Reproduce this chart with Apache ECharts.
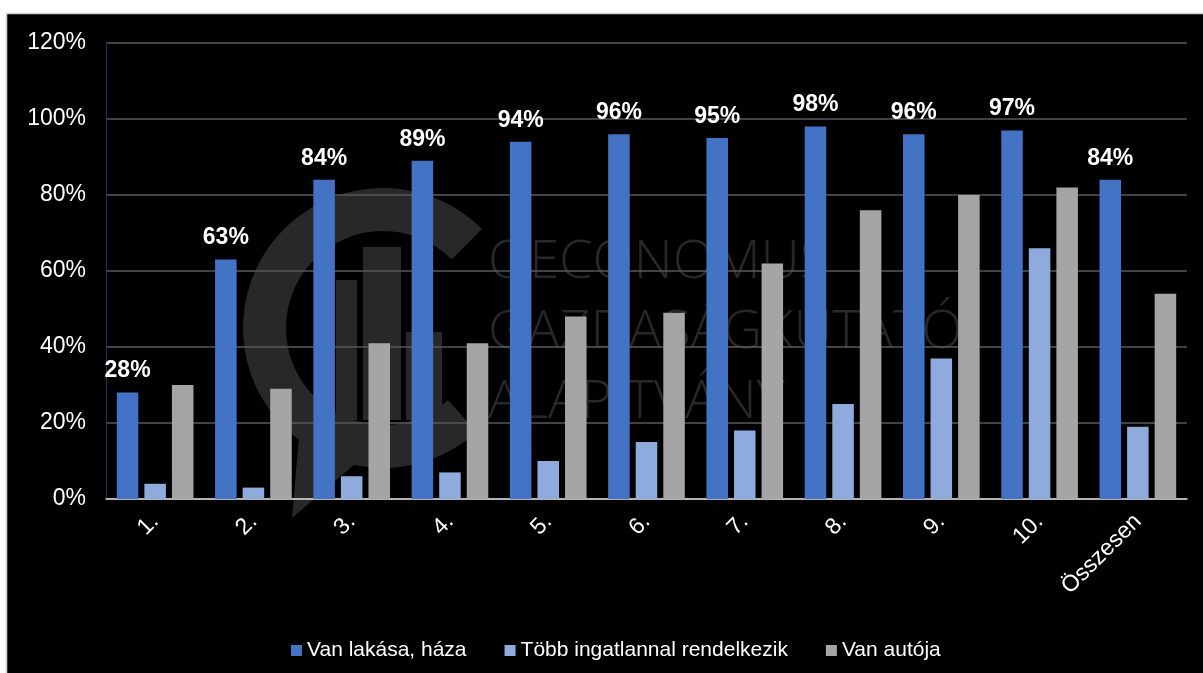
<!DOCTYPE html>
<html>
<head>
<meta charset="utf-8">
<script src="https://cdn.jsdelivr.net/npm/echarts@6/dist/echarts.min.js"></script>
<style>
  html, body { margin: 0; padding: 0; background: #fff; }
  #chart { width: 1203px; height: 673px; }
</style>
</head>
<body>
<div id="chart"></div>
<script>
// Decile groups plus the overall total
const categories = ['1.', '2.', '3.', '4.', '5.', '6.', '7.', '8.', '9.', '10.', 'Összesen'];

// Share of households (%)
const ownsHome = [28, 63, 84, 89, 94, 96, 95, 98, 96, 97, 84];
const multipleProperties = [4, 3, 6, 7, 10, 15, 18, 25, 37, 66, 19];
const ownsCar = [30, 29, 41, 41, 48, 49, 62, 76, 80, 82, 54];

const seriesNames = ['Van lakása, háza', 'Több ingatlannal rendelkezik', 'Van autója'];
const watermarkLines = ['OECONOMUS', 'GAZDASÁGKUTATÓ', 'ALAPÍTVÁNY'];

const chart = echarts.init(document.getElementById('chart'), null, { renderer: 'canvas' });

const wmColor = '#282828';
const wmText = watermarkLines.map((t, i) => ({
  type: 'text',
  z: -50,
  silent: true,
  style: {
    x: 488, y: 236 + i * 70,
    text: t,
    fill: wmColor,
    font: '300 54px "Open Sans", "DejaVu Sans", sans-serif',
    textVerticalAlign: 'top'
  }
}));

const option = {
  backgroundColor: '#ffffff',
  animation: false,
  textStyle: { fontFamily: 'Arial, "Liberation Sans", sans-serif' },
  graphic: [
    // dark panel with a thin light frame on the left and top
    {
      type: 'rect', z: -100, silent: true,
      shape: { x: 6.5, y: 13.5, width: 1200, height: 665 },
      style: { fill: '#000000', stroke: '#d4d4d4', lineWidth: 1.5 }
    },
    // logo: speech-bubble "C" ring with three columns
    {
      type: 'sector', z: -50, silent: true,
      shape: { cx: 383, cy: 328, r0: 97, r: 140,
               startAngle: 48 * Math.PI / 180, endAngle: 315 * Math.PI / 180, clockwise: true },
      style: { fill: wmColor }
    },
    {
      type: 'polygon', z: -50, silent: true,
      shape: { points: [[300, 425], [362, 458], [292, 518]] },
      style: { fill: wmColor }
    },
    { type: 'rect', z: -50, silent: true, shape: { x: 336, y: 280, width: 21, height: 140 }, style: { fill: wmColor } },
    { type: 'rect', z: -50, silent: true, shape: { x: 363, y: 247, width: 38, height: 173 }, style: { fill: wmColor } },
    { type: 'rect', z: -50, silent: true, shape: { x: 406, y: 332, width: 36, height: 88 }, style: { fill: wmColor } }
  ].concat(wmText),
  grid: { left: 106, right: 16, top: 43, bottom: 174, containLabel: false },
  legend: {
    data: seriesNames,
    left: 286,
    top: 635,
    icon: 'rect',
    itemWidth: 11,
    itemHeight: 11,
    itemGap: 38,
    textStyle: { color: '#ffffff', fontSize: 21, fontFamily: 'Arial, "Liberation Sans", sans-serif' }
  },
  xAxis: {
    type: 'category',
    data: categories,
    axisLine: { lineStyle: { color: '#d9d9d9', width: 1.5 } },
    axisTick: { show: false },
    axisLabel: { color: '#ffffff', fontSize: 23, rotate: 45, margin: 19, interval: 0 }
  },
  yAxis: {
    type: 'value',
    min: 0, max: 120, interval: 20,
    axisLine: { show: true, lineStyle: { color: '#1f2f4f', width: 1 } },
    axisTick: { show: false },
    splitLine: { lineStyle: { color: '#595959', width: 1.5 } },
    axisLabel: { color: '#ffffff', fontSize: 23, margin: 20, formatter: '{value}%' }
  },
  series: [
    {
      name: seriesNames[0], type: 'bar', data: ownsHome,
      itemStyle: { color: '#4472C4' },
      barGap: '28%', barCategoryGap: '22%',
      label: { show: true, position: 'top', distance: 10, color: '#ffffff',
               fontSize: 23, fontWeight: 'bold', formatter: '{c}%' }
    },
    {
      name: seriesNames[1], type: 'bar', data: multipleProperties,
      itemStyle: { color: '#8FAADC' }
    },
    {
      name: seriesNames[2], type: 'bar', data: ownsCar,
      itemStyle: { color: '#A5A5A5' }
    }
  ]
};

chart.setOption(option);
</script>
</body>
</html>
